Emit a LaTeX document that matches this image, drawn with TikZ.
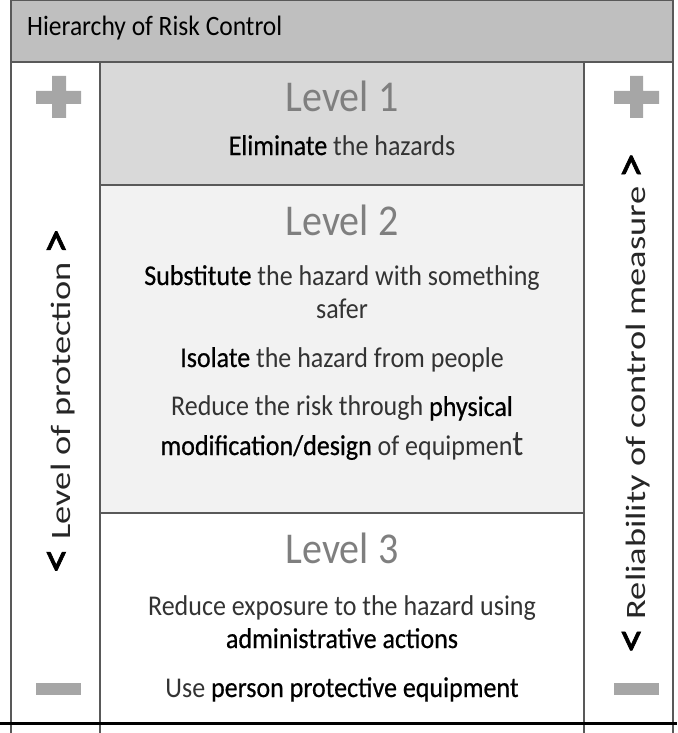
\documentclass[tikz,border=0pt]{standalone}
\usepackage{fontspec}
\setmainfont{Carlito}
\newfontfamily\widefont[FakeStretch=1.3]{Carlito}
\newfontfamily\keyfont[FakeBold=0.6]{Carlito}
\newfontfamily\chevfont[FakeBold=1.5,FakeStretch=1.1]{Carlito}
\definecolor{headgray}{HTML}{BFBFBF}
\definecolor{lvlone}{HTML}{D9D9D9}
\definecolor{lvltwo}{HTML}{F2F2F2}
\definecolor{signgray}{HTML}{A6A6A6}
\definecolor{titlegray}{HTML}{7F7F7F}
\definecolor{rulegray}{HTML}{595959}
\newcommand{\key}[1]{{\keyfont\color{black}#1}}
\newcommand{\chev}[1]{{\chevfont\fontsize{46}{28}\selectfont\color{black}#1}}

\begin{document}
\begin{tikzpicture}[x=1pt,y=-1pt,
		body/.style={anchor=base, align=center, inner sep=0pt, text=black!80,
			yscale=1.1, font=\fontsize{26}{30}\selectfont},
		lvl/.style={anchor=base, inner sep=0pt, text=titlegray,
			yscale=1.1, font=\fontsize{40}{40}\selectfont},
		side/.style={rotate=90, inner sep=0pt, text=black!85,
			font=\widefont\fontsize{28}{28}\selectfont},
		sign/.style={fill=signgray},
		rule/.style={draw=rulegray, line width=1.5pt}
		]
		\useasboundingbox (0,0) rectangle (677,733);
		% shaded bands
		\fill[headgray] (11,0) rectangle (673,62);
		\fill[lvlone] (100,62) rectangle (584,185);
		\fill[lvltwo] (100,185) rectangle (584,513);
		% table rules
		\draw[rule] (11,0) -- (673,0);
		\draw[rule] (11,62) -- (673,62);
		\draw[rule] (100,185) -- (584,185);
		\draw[rule] (100,513) -- (584,513);
		\draw[rule] (11,0) -- (11,733);
		\draw[rule] (673,0) -- (673,733);
		\draw[rule] (100,62) -- (100,733);
		\draw[rule] (584,62) -- (584,733);
		\draw[black, line width=3pt] (0,723) -- (677,723);
		
		\node[anchor=base west, inner sep=0pt, yscale=1.1, font=\fontsize{25.5}{26}\selectfont] (title) at (27,36) {Hierarchy of Risk Control};
		
		\node[lvl] (levelA) at (342,112) {Level 1};
		\node[body] (elim) at (342,155) {\key{Eliminate} the hazards};
		
		% multi-line nodes sit on their last baseline
		\node[lvl] (levelB) at (342,235) {Level 2};
		\node[body] (subst) at (342,318) {\key{Substitute} the hazard with something\\safer};
		\node[body] (isol) at (342,367) {\key{Isolate} the hazard from people};
		\node[body, font=\fontsize{26}{35.5}\selectfont] (redes) at (342,455) {Reduce the risk through \key{physical}\\\key{modification/design} of equipmen{\fontsize{33}{33}\selectfont t}};
		
		\node[lvl] (levelC) at (342,563) {Level 3};
		\node[body] (admin) at (342,648) {Reduce exposure to the hazard using\\\key{administrative actions}};
		\node[body] (ppe) at (342,697) {Use \key{person protective equipment}};
		
		% plus and minus signs
		\fill[sign] (36,91) rectangle (81,104) (52,76) rectangle (66,118);
		\fill[sign] (614,91) rectangle (659,104) (630,76) rectangle (643,118);
		\fill[sign] (36,683) rectangle (81,695);
		\fill[sign] (614,683) rectangle (659,695);
		
		\node[side] (protect) at (61,401) {\chev{<} Level of protection \chev{>}};
		\node[side] (reliab) at (636,403) {\chev{<} Reliability of control measure \chev{>}};
\end{tikzpicture}
\end{document}
